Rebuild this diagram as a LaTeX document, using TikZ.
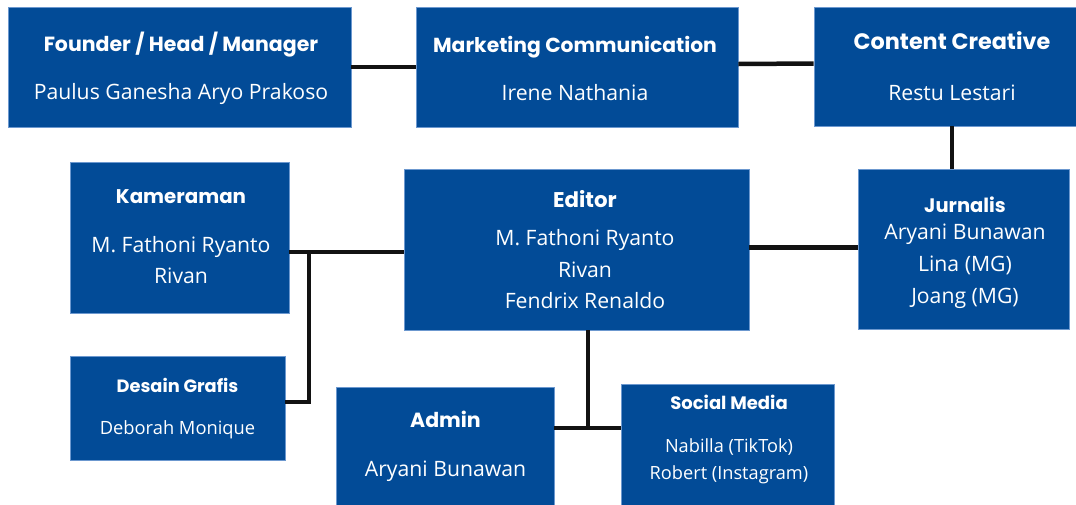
\documentclass[tikz,border=0pt]{standalone}
\usepackage{fontspec}
\setmainfont{Open Sans}
\newfontfamily\headfont{Poppins}
\definecolor{boxblue}{HTML}{024B97}
\definecolor{boxedge}{HTML}{6C98CF}
\newcommand{\fsz}[2]{\fontsize{#1}{#2}\selectfont}
\newcommand{\boxtitle}[2]{{\headfont\bfseries\fsz{#1}{#1}#2}}
\begin{document}
\begin{tikzpicture}[x=1pt, y=-1pt,
  org box/.style={rectangle, fill=boxblue, draw=boxedge, line width=0.8pt, inner sep=0pt},
  box text/.style={text=white, align=center, inner sep=0pt},
  link/.style={draw=black!93, line width=4.5pt}]
\useasboundingbox (0,0) rectangle (1076,504);
\clip (0,0) rectangle (1076,504);
% boxes
\node[org box, minimum width=343, minimum height=120] (founder) at (179.5,67) {};
\node[org box, minimum width=322, minimum height=120] (marketing) at (577,67) {};
\node[org box, minimum width=276, minimum height=119] (content) at (952,66.5) {};
\node[org box, minimum width=219, minimum height=151] (kamera) at (179.5,237.5) {};
\node[org box, minimum width=345, minimum height=161] (editor) at (576.5,249.5) {};
\node[org box, minimum width=211, minimum height=160] (jurnalis) at (963.5,249) {};
\node[org box, minimum width=215, minimum height=104] (desain) at (177.5,408) {};
\node[org box, minimum width=218, minimum height=133] (admin) at (445,453.5) {};
\node[org box, minimum width=213, minimum height=136] (social) at (727.5,452) {};
% texts
\node[box text, font=\fsz{21.2}{31}] (founder text) at (181,68)
  {\boxtitle{20.5}{Founder / Head / Manager}\\[17pt]Paulus Ganesha Aryo Prakoso};
\node[box text, font=\fsz{21.2}{31}] (marketing text) at (575,68)
  {\boxtitle{20.3}{Marketing Communication}\\[17pt]Irene Nathania};
\node[box text, font=\fsz{21.2}{31}] (content text) at (952,66.5)
  {\boxtitle{22.3}{Content Creative}\\[20pt]Restu Lestari};
\node[box text, font=\fsz{21.2}{31}] (kamera text) at (181,237)
  {\boxtitle{19.8}{Kameraman}\\[18pt]M. Fathoni Ryanto\\Rivan};
\node[box text, font=\fsz{21.2}{31.5}] (editor text) at (585,249.5)
  {\boxtitle{21.3}{Editor}\\[7pt]M. Fathoni Ryanto\\Rivan\\Fendrix Renaldo};
\node[box text, font=\fsz{21.2}{32}] (jurnalis text) at (965,252.5)
  {\boxtitle{19.5}{Jurnalis}\\[-5pt]Aryani Bunawan\\Lina (MG)\\Joang (MG)};
\node[box text, font=\fsz{18.3}{27}] (desain text) at (177.5,409)
  {\boxtitle{17.8}{Desain Grafis}\\[15pt]Deborah Monique};
\node[box text, font=\fsz{21.2}{31}] (admin text) at (445.5,446.5)
  {\boxtitle{20.5}{Admin}\\[18pt]Aryani Bunawan};
\node[box text, font=\fsz{18.2}{27}] (social text) at (729,439)
  {\boxtitle{18}{Social Media}\\[16pt]Nabilla (TikTok)\\Robert (Instagram)};
% connectors
\coordinate (kjoin) at (309,252);
\coordinate (djoin) at (309,402);
\coordinate (ejoin) at (588,428);
\draw[link] (founder.east) -- (marketing.west);
\draw[link] ([yshift=3pt]marketing.east) -- ([yshift=3pt]content.west);
\draw[link] (content.south) -- (content.south |- jurnalis.north);
\draw[link] ([yshift=2pt]editor.east) -- ([yshift=2pt]editor.east -| jurnalis.west);
\draw[link] (kamera.east |- kjoin) -- (editor.west |- kjoin);
\draw[link] (kjoin) -- (djoin) -- (desain.east |- djoin);
\draw[link] (editor.south -| ejoin) -- (ejoin);
\draw[link] (admin.east |- ejoin) -- (social.west |- ejoin);
\end{tikzpicture}
\end{document}
